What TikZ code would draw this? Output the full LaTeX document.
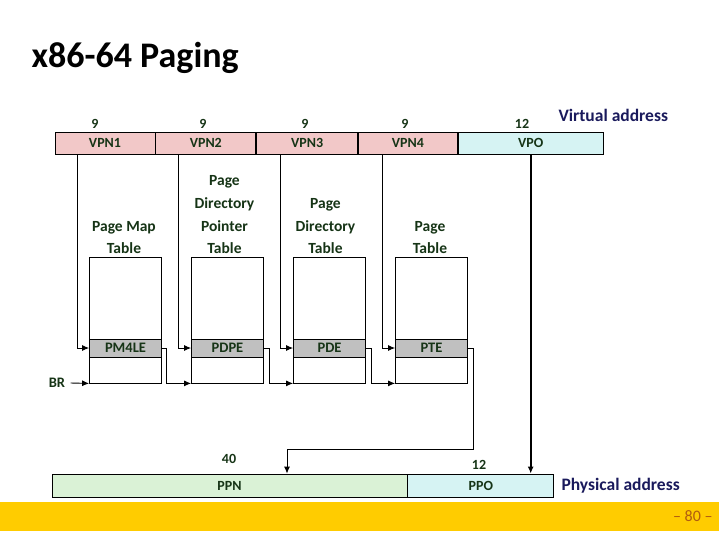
\documentclass[tikz,border=0pt]{standalone}
\usepackage{fontspec}
\setmainfont{Carlito}
\usepackage{tikz}
\usetikzlibrary{arrows.meta, calc, positioning}
\usepackage{xcolor}
\definecolor{vpnpink}{RGB}{242,200,200}
\definecolor{offcyan}{RGB}{214,243,243}
\definecolor{ppngreen}{RGB}{218,242,214}
\definecolor{entrygray}{RGB}{192,192,192}
\definecolor{txtgreen}{RGB}{22,52,22}
\definecolor{navy}{RGB}{26,26,92}
\definecolor{bandyellow}{RGB}{255,204,0}
\definecolor{pagebrown}{RGB}{176,92,16}

\begin{document}
\begin{tikzpicture}[
    x=1pt, y=-1pt,
    field/.style={rectangle, draw, line width=0.8pt, inner sep=0pt, minimum height=22pt, text=txtgreen, font=\fontsize{14}{16}\selectfont\bfseries},
    bits/.style={text=txtgreen, font=\fontsize{14}{16}\selectfont\bfseries},
    tbl/.style={rectangle, draw, line width=0.8pt, inner sep=0pt, minimum width=72pt, minimum height=126pt},
    entry/.style={rectangle, draw, line width=0.8pt, fill=entrygray, inner sep=0pt, minimum width=72pt, minimum height=18pt, text=txtgreen, font=\fontsize{14.5}{16}\selectfont\bfseries},
    tlabel/.style={align=center, text=txtgreen, font=\fontsize{15.5}{22.7}\selectfont\bfseries},
    arrow/.style={-{Latex[length=7pt,width=6pt]}, line width=0.9pt},
    link/.style={line width=0.8pt}
]
    \useasboundingbox (0,0) rectangle (719,539);

    % titel
    \node[anchor=west, font=\fontsize{36}{40}\selectfont\bfseries] (title) at (28,58) {x86-64 Paging};

    % virtuelle adresse
    \node[field, fill=vpnpink, minimum width=100pt] (vpn1) at (105,143) {VPN1};
    \node[field, fill=vpnpink, minimum width=100pt, right=0pt of vpn1] (vpn2) {VPN2};
    \node[field, fill=vpnpink, minimum width=101pt, right=0pt of vpn2] (vpn3) {VPN3};
    \node[field, fill=vpnpink, minimum width=99pt, right=0pt of vpn3] (vpn4) {VPN4};
    \node[field, fill=offcyan, minimum width=145pt, right=0pt of vpn4] (vpo) {VPO};
    \node[bits] (b1) at (95,124) {9};
    \node[bits] (b2) at (203,124) {9};
    \node[bits] (b3) at (305,124) {9};
    \node[bits] (b4) at (405,124) {9};
    \node[bits] (b5) at (522,124) {12};
    \node[anchor=west, text=navy, font=\fontsize{17.5}{20}\selectfont\bfseries] (vaddr) at (555,115) {Virtual address};

    % tabellen
    \node[tbl] (pml4) at (125.5,320) {};
    \node[tbl] (pdpt) at (227.5,320) {};
    \node[tbl] (pdt) at (329.5,320) {};
    \node[tbl] (pt) at (431.5,320) {};
    \node[entry] (pm4le) at (125.5,348) {PM4LE};
    \node[entry] (pdpe) at (227.5,348) {PDPE};
    \node[entry] (pde) at (329.5,348) {PDE};
    \node[entry] (pte) at (431.5,348) {PTE};
    \node[tlabel, above=-1pt of pml4, xshift=-1.5pt] (lpml4) {Page Map\\Table};
    \node[tlabel, above=-1pt of pdpt, xshift=-3pt] (lpdpt) {Page\\Directory\\Pointer\\Table};
    \node[tlabel, above=-1pt of pdt, xshift=-4pt] (lpdt) {Page\\Directory\\Table};
    \node[tlabel, above=-1pt of pt, xshift=-1.5pt] (lpt) {Page\\Table};

    % physische adresse
    \node[field, fill=ppngreen, minimum width=355pt, minimum height=23pt] (ppn) at (229.5,485.5) {PPN};
    \node[field, fill=offcyan, minimum width=146pt, minimum height=23pt, right=0pt of ppn] (ppo) {PPO};
    \node[bits] (b6) at (229,459) {40};
    \node[bits] (b7) at (479,465) {12};
    \node[anchor=west, text=navy, font=\fontsize{17.5}{20}\selectfont\bfseries] (paddr) at (558,486) {Physical address};

    % BR
    \node[text=txtgreen, font=\fontsize{14.5}{16}\selectfont\bfseries] (br) at (57,383) {BR};

    % pfeile
    \draw[arrow] ([xshift=-12pt]pm4le.west |- vpn1.south) |- (pm4le.west);
    \draw[arrow] ([xshift=-13pt]pdpe.west |- vpn2.south) |- (pdpe.west);
    \draw[arrow] ([xshift=-13pt]pde.west |- vpn3.south) |- (pde.west);
    \draw[arrow] ([xshift=-13pt]pte.west |- vpn4.south) |- (pte.west);
    \draw[arrow] ([xshift=2pt]br.east) -- (pml4.south west);
    \draw[arrow] (pm4le.east) -- ++(5,0) |- (pdpt.south west);
    \draw[arrow] (pdpe.east) -- ++(6,0) |- (pdt.south west);
    \draw[arrow] (pde.east) -- ++(6,0) |- (pt.south west);
    \draw[arrow] (pte.east) -- ++(6,0) -- ++(0,101) -| ([xshift=57.5pt]ppn.north);
    \draw[arrow, line width=2.2pt] (vpo.south) -- (vpo.south |- ppo.north);

    % fusszeile
    \fill[bandyellow] (0,502) rectangle (719,531);
    \node[anchor=east, text=pagebrown, font=\fontsize{16}{18}\selectfont] (pnum) at (716,516) {-- 80 --};
\end{tikzpicture}
\end{document}
